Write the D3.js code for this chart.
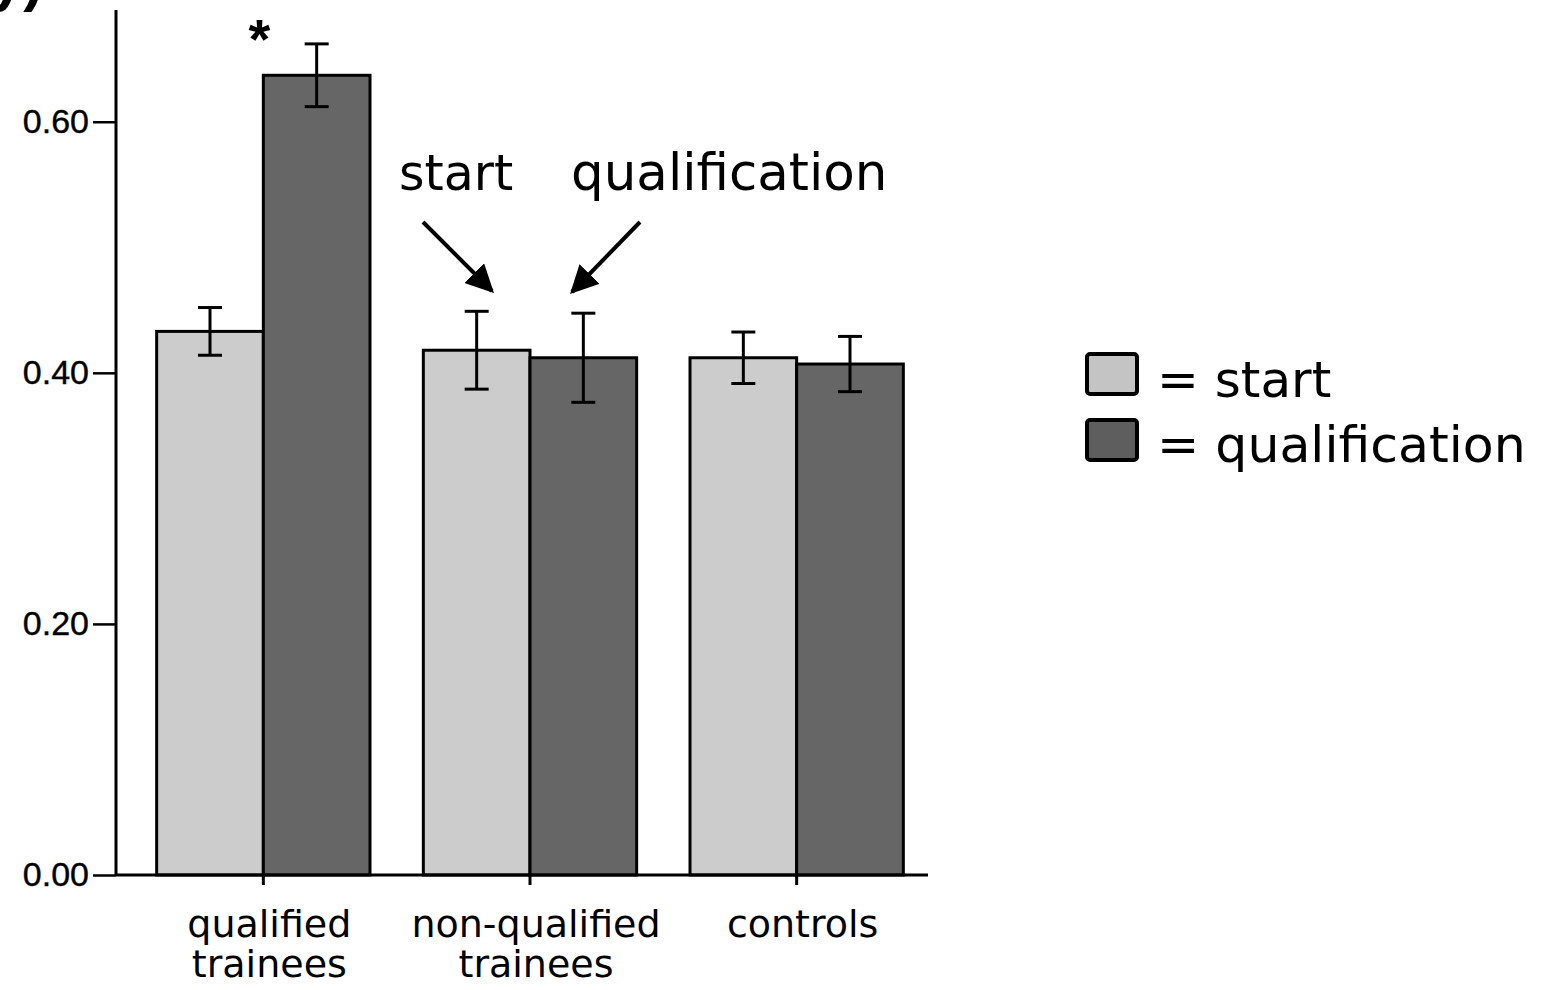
<!DOCTYPE html>
<html>
<head>
<meta charset="utf-8">
<script src="https://cdn.jsdelivr.net/npm/d3@7"></script>
<style>
  html, body { margin: 0; padding: 0; background: #fff; }
  svg { display: block; }
</style>
</head>
<body>
<svg id="chart" width="1544" height="990"></svg>
<script>
// Groups, phases and measured means with error half-widths
const categories = ["qualified trainees", "non-qualified trainees", "controls"];
const categoryLines = [["qualified", "trainees"], ["non-qualified", "trainees"], ["controls"]];
const phases = ["start", "qualification"];
const startValues = [0.433, 0.418, 0.412];
const qualificationValues = [0.637, 0.412, 0.407];
const startErrors = [0.019, 0.031, 0.0205];
const qualificationErrors = [0.025, 0.0355, 0.022];
const yTicks = [0.00, 0.20, 0.40, 0.60];

const phaseColors = { start: "#cccccc", qualification: "#666666" };
const legendColors = { start: "#c4c4c4", qualification: "#5e5e5e" };

const svg = d3.select("#chart");

const x0 = d3.scaleBand().domain(categories).range([130, 930]).paddingInner(0.2).paddingOuter(0.1);
const x1 = d3.scaleBand().domain(phases).range([0, x0.bandwidth()]);
const y = d3.scaleLinear().domain([0, 0.689]).range([875, 10]);

const rows = categories.map((c, i) => ({
  category: c,
  values: [
    { phase: "start", value: startValues[i], err: startErrors[i] },
    { phase: "qualification", value: qualificationValues[i], err: qualificationErrors[i] }
  ]
}));

// y axis
const yAxis = svg.append("g")
  .attr("transform", `translate(${116},0)`)
  .call(d3.axisLeft(y).tickValues(yTicks).tickFormat(d3.format(".2f")).tickSize(23).tickSizeOuter(0));
yAxis.select(".domain").remove();
yAxis.selectAll(".tick line").attr("stroke", "#000").attr("stroke-width", 2.5);
yAxis.selectAll(".tick text")
  .attr("x", -27)
  .attr("font-family", "'Liberation Sans', Arial, sans-serif")
  .attr("font-size", 34)
  .attr("fill", "#000")
  .attr("stroke", "#000")
  .attr("stroke-width", 0.4);
svg.append("line").attr("x1", 116).attr("x2", 116).attr("y1", y.range()[1]).attr("y2", y(0))
  .attr("stroke", "#000").attr("stroke-width", 3);

// bars
const groups = svg.selectAll("g.group").data(rows).enter().append("g")
  .attr("class", "group")
  .attr("transform", d => `translate(${x0(d.category)},0)`);

groups.selectAll("rect").data(d => d.values).enter().append("rect")
  .attr("x", d => x1(d.phase))
  .attr("y", d => y(d.value))
  .attr("width", x1.bandwidth())
  .attr("height", d => y(0) - y(d.value))
  .attr("fill", d => phaseColors[d.phase])
  .attr("stroke", "#000")
  .attr("stroke-width", 3);

// error bars
const capHalf = 12;
const eb = groups.selectAll("g.err").data(d => d.values).enter().append("g").attr("class", "err")
  .attr("transform", d => `translate(${x1(d.phase) + x1.bandwidth() / 2},0)`);
eb.append("line").attr("x1", 0).attr("x2", 0)
  .attr("y1", d => y(d.value + d.err)).attr("y2", d => y(d.value - d.err))
  .attr("stroke", "#000").attr("stroke-width", 3);
eb.append("line").attr("x1", -capHalf).attr("x2", capHalf)
  .attr("y1", d => y(d.value + d.err)).attr("y2", d => y(d.value + d.err))
  .attr("stroke", "#000").attr("stroke-width", 3);
eb.append("line").attr("x1", -capHalf).attr("x2", capHalf)
  .attr("y1", d => y(d.value - d.err)).attr("y2", d => y(d.value - d.err))
  .attr("stroke", "#000").attr("stroke-width", 3);

// x axis
svg.append("line").attr("x1", 116).attr("x2", 928).attr("y1", y(0)).attr("y2", y(0))
  .attr("stroke", "#000").attr("stroke-width", 3);
const xAxis = svg.append("g")
  .attr("transform", `translate(0,${y(0)})`)
  .call(d3.axisBottom(x0).tickSize(10).tickSizeOuter(0).tickFormat(""));
xAxis.select(".domain").remove();
xAxis.selectAll(".tick line").attr("stroke", "#000").attr("stroke-width", 3);

// category labels, one text per line
const labelFont = "'DejaVu Sans', Verdana, sans-serif";
categories.forEach((c, i) => {
  const cx = x0(c) + x0.bandwidth() / 2 + 6;
  categoryLines[i].forEach((line, j) => {
    svg.append("text")
      .attr("x", cx)
      .attr("y", 937 + j * 40)
      .attr("text-anchor", "middle")
      .attr("font-family", labelFont)
      .attr("font-size", 38)
      .attr("fill", "#000")
      .text(line);
  });
});

// significance mark
svg.append("text")
  .attr("x", x0(categories[0]) + x1("start") + x1.bandwidth() - 4)
  .attr("y", 58)
  .attr("text-anchor", "middle")
  .attr("font-family", "'Liberation Sans', Arial, sans-serif")
  .attr("font-weight", "bold")
  .attr("font-size", 56)
  .text("*");

// panel letter, clipped at the top edge
svg.append("text")
  .attr("x", -10).attr("y", 0)
  .attr("font-family", "'Liberation Sans', Arial, sans-serif")
  .attr("font-weight", "bold")
  .attr("font-size", 60)
  .text("y)");

// annotation arrows
const defs = svg.append("defs");
defs.append("marker").attr("id", "head")
  .attr("viewBox", "0 0 10 10").attr("refX", 9).attr("refY", 5)
  .attr("markerWidth", 7).attr("markerHeight", 7).attr("markerUnits", "strokeWidth")
  .attr("orient", "auto")
  .append("path").attr("d", "M0,0 L10,5 L0,10 Z").attr("fill", "#000");

const annoFont = "'DejaVu Sans', Verdana, sans-serif";
svg.append("text").attr("x", 399).attr("y", 190)
  .attr("font-family", annoFont).attr("font-size", 49).text("start");
svg.append("text").attr("x", 571).attr("y", 190)
  .attr("font-family", annoFont).attr("font-size", 51.5).text("qualification");
svg.append("line").attr("x1", 423).attr("y1", 222).attr("x2", 492).attr("y2", 291)
  .attr("stroke", "#000").attr("stroke-width", 4).attr("marker-end", "url(#head)");
svg.append("line").attr("x1", 640).attr("y1", 222).attr("x2", 572).attr("y2", 292)
  .attr("stroke", "#000").attr("stroke-width", 4).attr("marker-end", "url(#head)");

// legend
const legend = svg.append("g").attr("transform", "translate(1087,354)");
phases.forEach((p, i) => {
  legend.append("rect")
    .attr("x", 0).attr("y", i * 66)
    .attr("width", 50).attr("height", 40)
    .attr("rx", 3)
    .attr("fill", legendColors[p])
    .attr("stroke", "#000").attr("stroke-width", 4);
  legend.append("text")
    .attr("x", 70).attr("y", 43 + i * 65)
    .attr("font-family", annoFont).attr("font-size", i === 1 ? 50.5 : 50)
    .text("= " + p);
});
</script>
</body>
</html>
